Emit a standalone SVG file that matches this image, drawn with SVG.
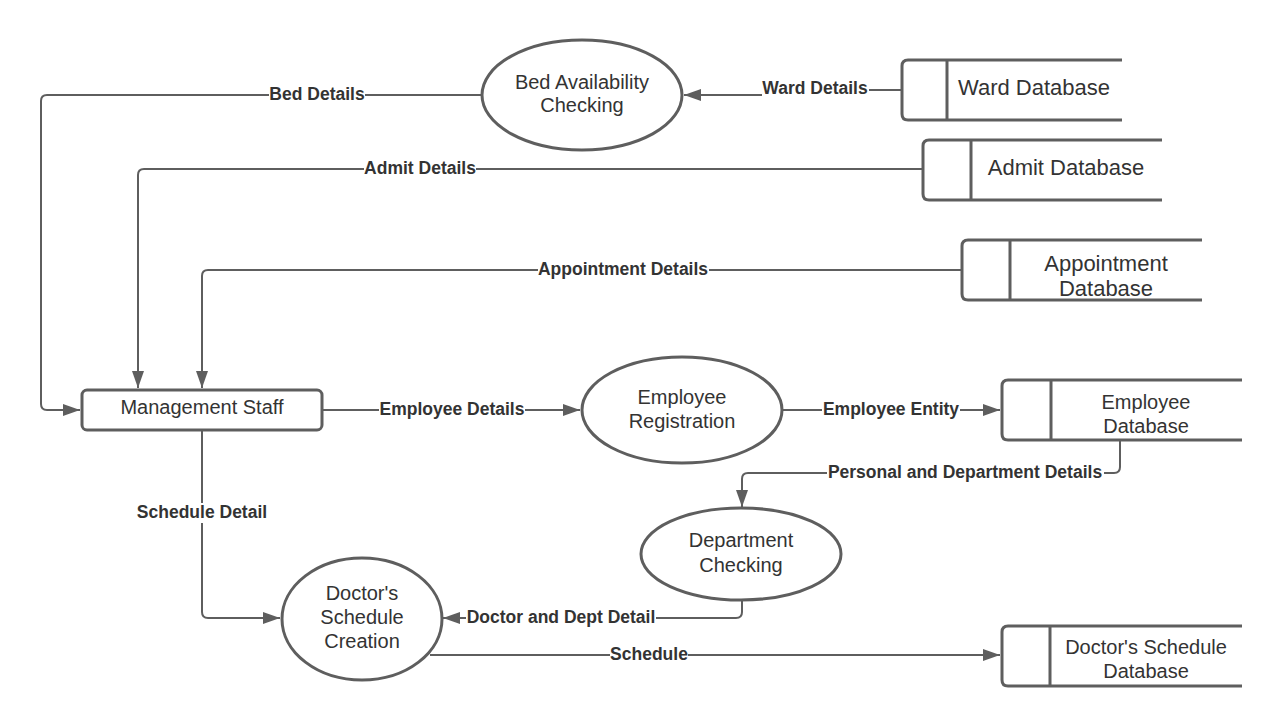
<svg xmlns="http://www.w3.org/2000/svg" width="1283" height="726" viewBox="0 0 1283 726">
<style>
.shape{fill:#fff;stroke:#5e5e5e;stroke-width:3}
.store{fill:none;stroke:#5e5e5e;stroke-width:3}
.conn{fill:none;stroke:#5e5e5e;stroke-width:2}
.t{font-family:"Liberation Sans",Arial,sans-serif;font-size:20px;fill:#333;text-anchor:middle}
.t22{font-size:22px}
.lbl{font-family:"Liberation Sans",Arial,sans-serif;font-size:17.5px;font-weight:bold;fill:#333;text-anchor:middle}
.bg{fill:#fff}
</style>
<defs>
<marker id="arr" markerUnits="userSpaceOnUse" markerWidth="17" markerHeight="12" viewBox="0 0 17 12" refX="17" refY="6" orient="auto">
<path d="M0,0 L17,6 L0,12 z" fill="#5e5e5e"/>
</marker>
</defs>
<rect width="1283" height="726" fill="#fff"/>
<g id="connectors">
<path class="conn" d="M482,95 H47 Q41,95 41,101 V404 Q41,410 47,410 H80" marker-end="url(#arr)"/>
<path class="conn" d="M902,90 H815 V95 H684" marker-end="url(#arr)"/>
<path class="conn" d="M923,169 H144 Q138,169 138,175 V388" marker-end="url(#arr)"/>
<path class="conn" d="M962,270 H208 Q202,270 202,276 V388" marker-end="url(#arr)"/>
<path class="conn" d="M323,410 H580" marker-end="url(#arr)"/>
<path class="conn" d="M782,410 H1000" marker-end="url(#arr)"/>
<path class="conn" d="M1120,441 V467 Q1120,473 1114,473 H748 Q742,473 742,479 V507" marker-end="url(#arr)"/>
<path class="conn" d="M202,431 V612 Q202,618 208,618 H280" marker-end="url(#arr)"/>
<path class="conn" d="M742,600 V612 Q742,618 736,618 H443" marker-end="url(#arr)"/>
<path class="conn" d="M430,655 H1000" marker-end="url(#arr)"/>
<rect class="bg" x="269" y="85" width="96" height="20"/>
<text class="lbl" x="317" y="100">Bed Details</text>
<rect class="bg" x="762" y="80" width="107" height="20"/>
<text class="lbl" x="815" y="94">Ward Details</text>
<rect class="bg" x="364" y="159" width="112" height="20"/>
<text class="lbl" x="420" y="174">Admit Details</text>
<rect class="bg" x="538" y="260" width="171" height="20"/>
<text class="lbl" x="623" y="275">Appointment Details</text>
<rect class="bg" x="379" y="400" width="146" height="20"/>
<text class="lbl" x="452" y="415">Employee Details</text>
<rect class="bg" x="822" y="400" width="138" height="20"/>
<text class="lbl" x="891" y="415">Employee Entity</text>
<rect class="bg" x="827" y="463" width="277" height="20"/>
<text class="lbl" x="965" y="478">Personal and Department Details</text>
<rect class="bg" x="136" y="503" width="132" height="20"/>
<text class="lbl" x="202" y="518">Schedule Detail</text>
<rect class="bg" x="466" y="608" width="190" height="20"/>
<text class="lbl" x="561" y="623">Doctor and Dept Detail</text>
<rect class="bg" x="610" y="645" width="78" height="20"/>
<text class="lbl" x="649" y="660">Schedule</text>
</g>
<g id="bed-availability-checking">
<ellipse class="shape" cx="582" cy="95" rx="100" ry="55"/>
<text class="t" x="582" y="89">Bed Availability</text>
<text class="t" x="582" y="112">Checking</text>
</g>
<g id="ward-database">
<path class="store" d="M1122,60 H908 Q902,60 902,66 V114 Q902,120 908,120 H1122 M947,60 V120"/>
<text class="t t22" x="1034" y="95">Ward Database</text>
</g>
<g id="admit-database">
<path class="store" d="M1162,140 H929 Q923,140 923,146 V194 Q923,200 929,200 H1162 M971,140 V200"/>
<text class="t t22" x="1066" y="175">Admit Database</text>
</g>
<g id="appointment-database">
<path class="store" d="M1202,240 H968 Q962,240 962,246 V294 Q962,300 968,300 H1202 M1010,240 V300"/>
<text class="t t22" x="1106" y="271">Appointment</text>
<text class="t t22" x="1106" y="296">Database</text>
</g>
<g id="management-staff">
<rect class="shape" x="82" y="390" width="240" height="40" rx="5"/>
<text class="t" x="202" y="414">Management Staff</text>
</g>
<g id="employee-registration">
<ellipse class="shape" cx="682" cy="410" rx="100" ry="53"/>
<text class="t" x="682" y="404">Employee</text>
<text class="t" x="682" y="428">Registration</text>
</g>
<g id="employee-database">
<path class="store" d="M1242,380 H1008 Q1002,380 1002,386 V434 Q1002,440 1008,440 H1242 M1051,380 V440"/>
<text class="t" x="1146" y="409">Employee</text>
<text class="t" x="1146" y="433">Database</text>
</g>
<g id="department-checking">
<ellipse class="shape" cx="741" cy="554" rx="100" ry="46"/>
<text class="t" x="741" y="547">Department</text>
<text class="t" x="741" y="572">Checking</text>
</g>
<g id="doctors-schedule-creation">
<ellipse class="shape" cx="362" cy="619" rx="80" ry="61"/>
<text class="t" x="362" y="600">Doctor's</text>
<text class="t" x="362" y="624">Schedule</text>
<text class="t" x="362" y="648">Creation</text>
</g>
<g id="doctors-schedule-database">
<path class="store" d="M1242,626 H1008 Q1002,626 1002,632 V680 Q1002,686 1008,686 H1242 M1050,626 V686"/>
<text class="t" x="1146" y="654">Doctor's Schedule</text>
<text class="t" x="1146" y="678">Database</text>
</g>
</svg>
